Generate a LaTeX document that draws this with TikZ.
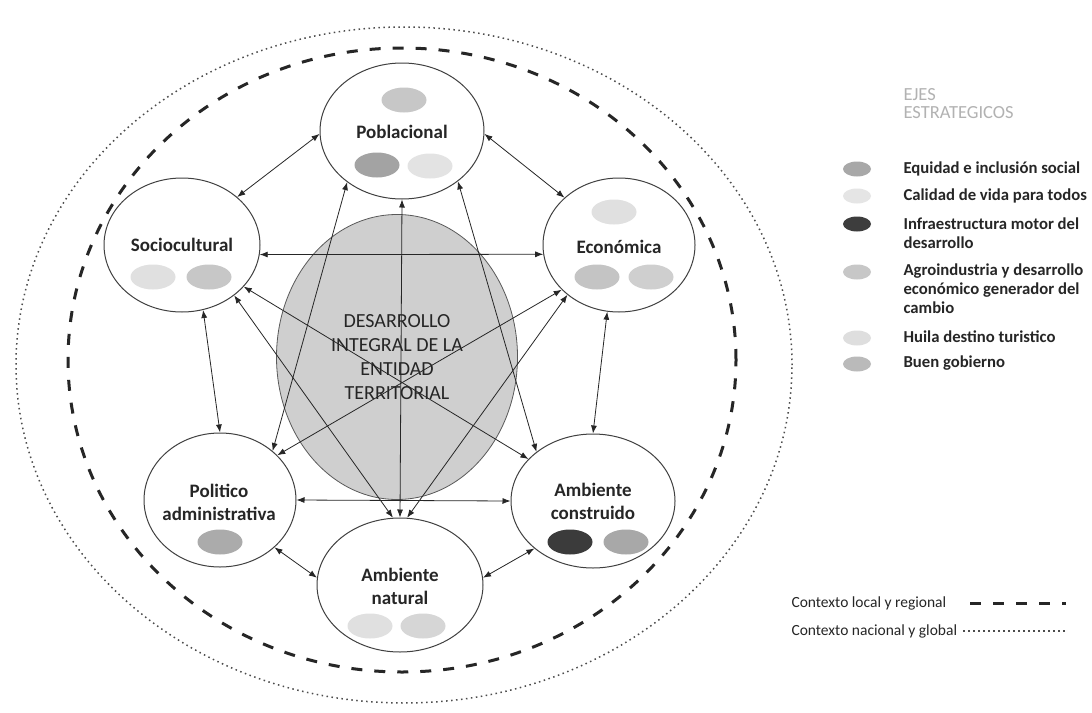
\documentclass[tikz,border=0pt]{standalone}
\usepackage{fontspec}
\setmainfont{Carlito}
\usetikzlibrary{arrows.meta,shapes.geometric}
\begin{document}
\begin{tikzpicture}[x=1pt,y=-1pt,
  sphere/.style={ellipse, draw=black!75, line width=1pt, fill=white, inner sep=0pt},
  spot/.style={ellipse, inner sep=0pt, minimum width=45pt, minimum height=25pt},
  lab/.style={font=\fontsize{19}{23}\selectfont\bfseries, text=black!85, align=center},
  conn/.style={{Latex[length=8pt,width=6pt]}-{Latex[length=8pt,width=6pt]}, line width=0.8pt, draw=black!85},
  leg/.style={font=\fontsize{16.7}{19}\selectfont\bfseries, anchor=west, align=left, text=black!85},
  ctx/.style={font=\fontsize{15.5}{18}\selectfont, anchor=west, text=black!85},
  key/.style={ellipse, inner sep=0pt, minimum width=28pt, minimum height=15pt},
  localline/.style={line width=3pt, dash pattern=on 11pt off 12pt, draw=black!85},
  globalline/.style={line width=1.5pt, dash pattern=on 1.5pt off 3.5pt, draw=black!70}
]
\useasboundingbox (0,0) rectangle (1092,712);
\fill[white] (0,0) rectangle (1092,712);

% context ellipses
\draw[globalline] (404,365) ellipse [x radius=388pt, y radius=338pt];
\draw[localline] (402,360) ellipse [x radius=334pt, y radius=312pt];

% central ellipse
\node[ellipse, draw=black!65, line width=0.8pt, fill=black!19, minimum width=241pt, minimum height=285pt, inner sep=0pt, font=\fontsize{20}{24}\selectfont, align=center, text=black!85] (core) at (397,357) {DESARROLLO\\INTEGRAL DE LA\\ENTIDAD\\TERRITORIAL};

% sphere ellipses
\node[sphere, minimum width=164pt, minimum height=136pt] (pob) at (402,131) {};
\node[sphere, minimum width=156pt, minimum height=134pt] (soc) at (182,245) {};
\node[sphere, minimum width=152pt, minimum height=134pt] (eco) at (619,245) {};
\node[sphere, minimum width=152pt, minimum height=134pt] (pol) at (220,500) {};
\node[sphere, minimum width=164pt, minimum height=134pt] (con) at (593,501) {};
\node[sphere, minimum width=166pt, minimum height=134pt] (nat) at (400,585) {};

% spots
\node[spot, fill=black!22] (pobA) at (404,100) {};
\node[spot, fill=black!36] (pobB) at (377,165) {};
\node[spot, fill=black!11] (pobC) at (430,166) {};
\node[spot, fill=black!12] (socA) at (153,277) {};
\node[spot, fill=black!22] (socB) at (209,277) {};
\node[spot, fill=black!12] (ecoA) at (614,212) {};
\node[spot, fill=black!23] (ecoB) at (597,277) {};
\node[spot, fill=black!19] (ecoC) at (651,277) {};
\node[spot, fill=black!33] (polA) at (220,542) {};
\node[spot, fill=black!77] (conA) at (570,542) {};
\node[spot, fill=black!34] (conB) at (626,542) {};
\node[spot, fill=black!12] (natA) at (370,626) {};
\node[spot, fill=black!16] (natB) at (423,626) {};

% labels
\node[lab] (pobT) at (402,132) {Poblacional};
\node[lab] (socT) at (182,245) {Sociocultural};
\node[lab] (ecoT) at (619,247) {Económica};
\node[lab] (polT) at (219,502) {Politico\\administrativa};
\node[lab] (conT) at (593,501) {Ambiente\\construido};
\node[lab] (natT) at (400,586) {Ambiente\\natural};

% connectors
\draw[conn] (pob.182) -- (soc.41);
\draw[conn] (pob.-2) -- (eco.139);
\draw[conn] (soc.-7) -- (eco.187);
\draw[conn] (soc.-72) -- (pol.90);
\draw[conn] (eco.-100) -- (con.90);
\draw[conn] (pol.-41) -- (nat.175);
\draw[conn] (con.219) -- (nat.5);
\draw[conn] (pol.0) -- (con.180);
\draw[conn] (pob.-90) -- (nat.90);
\draw[conn] (pob.223) -- (pol.43);
\draw[conn] (pob.-42) -- (con.139);
\draw[conn] (soc.-34) -- (con.147);
\draw[conn] (eco.218) -- (pol.38);
\draw[conn] (soc.-44) -- (nat.96);
\draw[conn] (eco.224) -- (nat.84);

% legend
\node[font=\fontsize{18.5}{18}\selectfont, text=black!30, anchor=west, align=left] (ejes) at (900,104) {EJES\\ESTRATEGICOS};
\node[key, fill=black!34] (k1) at (857,169) {};
\node[leg] (t1) at (900,169) {Equidad e inclusión social};
\node[key, fill=black!10] (k2) at (857,196) {};
\node[leg] (t2) at (900,196) {Calidad de vida para todos};
\node[key, fill=black!76] (k3) at (857,224) {};
\node[leg] (t3) at (900,233.5) {Infraestructura motor del\\desarrollo};
\node[key, fill=black!22] (k4) at (857,272) {};
\node[leg] (t4) at (900,288.5) {Agroindustria y desarrollo\\económico generador del\\cambio};
\node[key, fill=black!13] (k5) at (857,338) {};
\node[leg] (t5) at (900,337) {Huila destino turistico};
\node[key, fill=black!27] (k6) at (857,364) {};
\node[leg] (t6) at (900,363) {Buen gobierno};

\node[ctx] (c1) at (788,603) {Contexto local y regional};
\coordinate (d1a) at (970,603);
\coordinate (d1b) at (1066,603);
\draw[localline] (d1a) -- (d1b);
\node[ctx] (c2) at (788,631) {Contexto nacional y global};
\coordinate (d2a) at (963,631);
\coordinate (d2b) at (1068,631);
\draw[globalline] (d2a) -- (d2b);
\end{tikzpicture}
\end{document}
